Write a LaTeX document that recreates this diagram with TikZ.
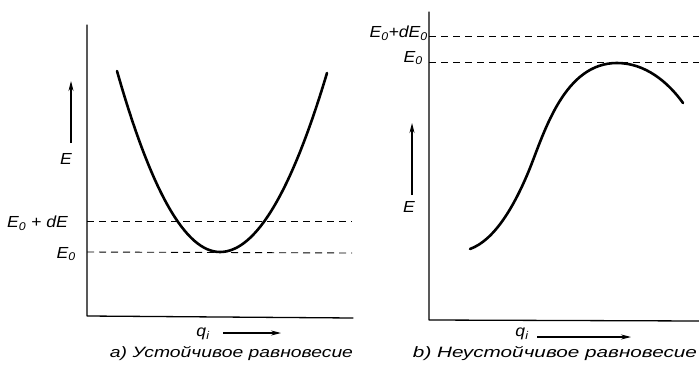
\documentclass[tikz,border=0pt]{standalone}
\usepackage{fontspec}
\setmainfont{Liberation Sans}
\newfontfamily\gostfont{Liberation Sans}[FakeStretch=1.1]
\usetikzlibrary{arrows.meta}
\begin{document}
\begin{tikzpicture}[x=1pt,y=-1pt,
  axisline/.style={line width=1.3pt, line cap=round, line join=round},
  curveline/.style={line width=2.6pt, line cap=round},
  dashline/.style={line width=0.9pt, dash pattern=on 7pt off 5pt},
  lbl/.style={font=\gostfont\fontsize{16}{16}\selectfont\itshape, inner sep=0pt},
  captext/.style={font=\gostfont\fontsize{15}{15}\selectfont\itshape, inner sep=0pt},
  arr/.style={line width=1.1pt, -{Stealth[length=10pt,width=5pt]}}]
\path[use as bounding box] (0,0) rectangle (699,369);

% ---------- panel a ----------
\coordinate (aT) at (87,25);
\coordinate (aO) at (87,316);
\coordinate (aR) at (353,318);
\draw[axisline] (aT) -- (aO) -- (aR);
\coordinate (a1L) at (87,221); \coordinate (a1R) at (352,221);
\coordinate (a0L) at (87,252); \coordinate (a0R) at (352,253);
\draw[dashline] (a1L) -- (a1R);
\draw[dashline] (a0L) -- (a0R);
\draw[curveline] (117,71) .. controls (151.3,191.7) and (185.7,252) .. (220,252)
   .. controls (255.7,252) and (291.3,192.3) .. (327,73);
\node[lbl, anchor=east] (aE1) at (68,223) {E\textsubscript{0} + dE};
\node[lbl, anchor=east] (aE0) at (76,254) {E\textsubscript{0}};
\node[lbl] (aE) at (66,159) {E};
\coordinate (aEb) at (71,143); \coordinate (aEt) at (71,81);
\draw[arr] (aEb) -- (aEt);
\node[lbl] (aq) at (203,334) {q\textsubscript{i}};
\coordinate (aqs) at (223,333); \coordinate (aqe) at (281,333);
\draw[arr] (aqs) -- (aqe);
\node[captext] (capa) at (231.5,354) {\resizebox{243pt}{\height}{a) Устойчивое равновесие}};

% ---------- panel b ----------
\coordinate (bT) at (429,12);
\coordinate (bO) at (429,320);
\coordinate (bR) at (699,321);
\draw[axisline] (bT) -- (bO) -- (bR);
\coordinate (b1L) at (429,36); \coordinate (b1R) at (699,36);
\coordinate (b0L) at (429,62); \coordinate (b0R) at (699,62);
\draw[dashline] (b1L) -- (b1R);
\draw[dashline] (b0L) -- (b0R);
\draw[curveline] (470,249) .. controls (495,240) and (515,205) .. (530,168)
   .. controls (545,130) and (565,63) .. (617,63)
   .. controls (645,63) and (668,82) .. (683,103);
\node[lbl, anchor=east] (bE1) at (428,33) {E\textsubscript{0}+dE\textsubscript{0}};
\node[lbl, anchor=east] (bE0) at (423,58) {E\textsubscript{0}};
\node[lbl] (bE) at (409,207) {E};
\coordinate (bEb) at (412,195); \coordinate (bEt) at (412,123);
\draw[arr] (bEb) -- (bEt);
\node[lbl] (bq) at (522,334) {q\textsubscript{i}};
\coordinate (bqs) at (537,337); \coordinate (bqe) at (631,337);
\draw[arr] (bqs) -- (bqe);
\node[captext] (capb) at (555,354) {\resizebox{284pt}{\height}{b) Неустойчивое равновесие}};
\end{tikzpicture}
\end{document}
